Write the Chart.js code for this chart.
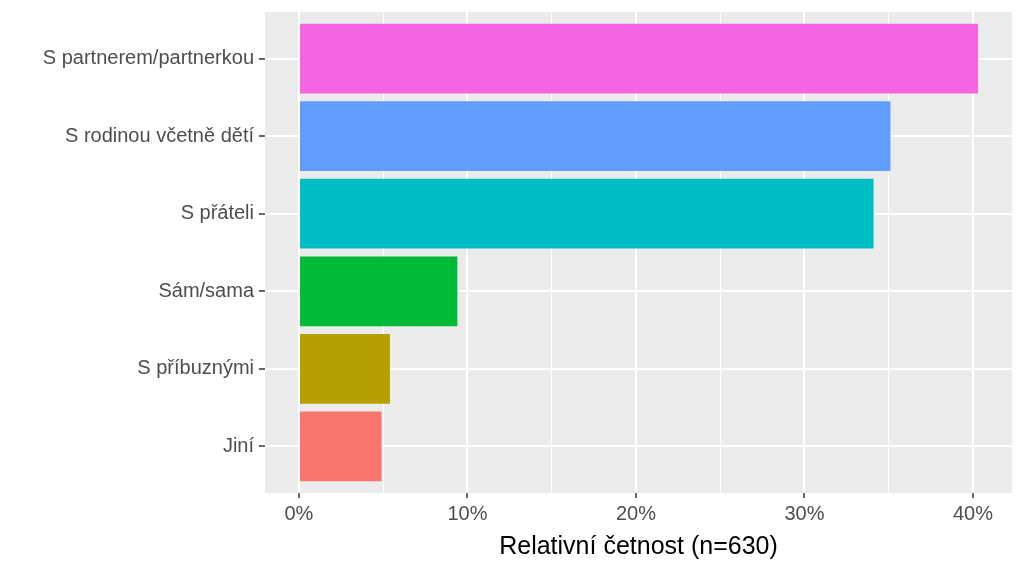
<!DOCTYPE html>
<html>
<head>
<meta charset="utf-8">
<script src="https://cdn.jsdelivr.net/npm/chart.js@4"></script>
<style>
  html, body { margin: 0; padding: 0; background: #ffffff; }
  canvas { display: block; }
</style>
</head>
<body>
<canvas id="chart" width="1024" height="569"></canvas>
<script>
// Categories from bottom to top (ggplot puts the first level at the bottom)
const categories = ['Jiní', 'S příbuznými', 'Sám/sama', 'S přáteli', 'S rodinou včetně dětí', 'S partnerem/partnerkou'];
const values = [4.9, 5.4, 9.4, 34.1, 35.1, 40.3];
const barColors = ['#F8766D', '#B79F00', '#00BA38', '#00BFC4', '#619CFF', '#F564E3'];
const xMajorTicks = [0, 10, 20, 30, 40];
const xMinorTicks = [5, 15, 25, 35];
const xTickLabels = ['0%', '10%', '20%', '30%', '40%'];
const axisTitle = 'Relativní četnost (n=630)';

const isMajor = v => xMajorTicks.includes(Math.round(v));

// Grey panel behind the plot area
const panelBackground = {
  id: 'panelBackground',
  beforeDraw(chart) {
    const { ctx, chartArea } = chart;
    ctx.save();
    ctx.fillStyle = '#EBEBEB';
    ctx.fillRect(chartArea.left, chartArea.top, chartArea.right - chartArea.left, chartArea.bottom - chartArea.top);
    ctx.restore();
  }
};

const xMax = Math.max(...values);

new Chart(document.getElementById('chart'), {
  type: 'bar',
  data: {
    datasets: [{
      data: values.map((v, i) => ({ x: v, y: i })),
      backgroundColor: barColors,
      borderWidth: 0,
      categoryPercentage: 1,
      barPercentage: 0.9
    }]
  },
  options: {
    indexAxis: 'y',
    responsive: false,
    animation: false,
    layout: { padding: { top: 12, right: 12, left: 0, bottom: 0 } },
    plugins: {
      legend: { display: false },
      tooltip: { enabled: false }
    },
    scales: {
      x: {
        type: 'linear',
        min: -0.05 * xMax,
        max: 1.05 * xMax,
        border: { display: false },
        ticks: {
          padding: 4,
          color: '#4D4D4D',
          font: { family: 'Liberation Sans, Arial, sans-serif', size: 20 },
          callback: v => (isMajor(v) ? xTickLabels[xMajorTicks.indexOf(Math.round(v))] : '')
        },
        afterBuildTicks: scale => {
          scale.ticks = xMajorTicks.concat(xMinorTicks).sort((a, b) => a - b).map(v => ({ value: v }));
        },
        afterFit: scale => {
          scale.height = 76;
          scale.paddingLeft = 0;
          scale.paddingRight = 0;
        },
        grid: {
          color: '#FFFFFF',
          lineWidth: ctx => (isMajor(ctx.tick.value) ? 2 : 1),
          tickColor: ctx => (isMajor(ctx.tick.value) ? '#333333' : 'rgba(0,0,0,0)'),
          tickWidth: 1.5,
          tickLength: 5
        },
        title: {
          display: true,
          text: axisTitle,
          color: '#000000',
          font: { family: 'Liberation Sans, Arial, sans-serif', size: 25 },
          padding: { top: 0, bottom: 7 }
        }
      },
      y: {
        type: 'linear',
        offset: false,
        min: -0.6,
        max: categories.length - 0.4,
        border: { display: false },
        ticks: {
          padding: 5,
          color: '#4D4D4D',
          font: { family: 'Liberation Sans, Arial, sans-serif', size: 20 },
          callback: v => categories[Math.round(v)]
        },
        afterBuildTicks: scale => {
          scale.ticks = categories.map((c, i) => ({ value: i }));
        },
        afterFit: scale => {
          scale.width = 265;
          scale.paddingTop = 0;
          scale.paddingBottom = 0;
        },
        grid: {
          offset: false,
          color: '#FFFFFF',
          lineWidth: 2,
          tickColor: '#333333',
          tickWidth: 1.5,
          tickLength: 6
        }
      }
    }
  },
  plugins: [panelBackground]
});
</script>
</body>
</html>
